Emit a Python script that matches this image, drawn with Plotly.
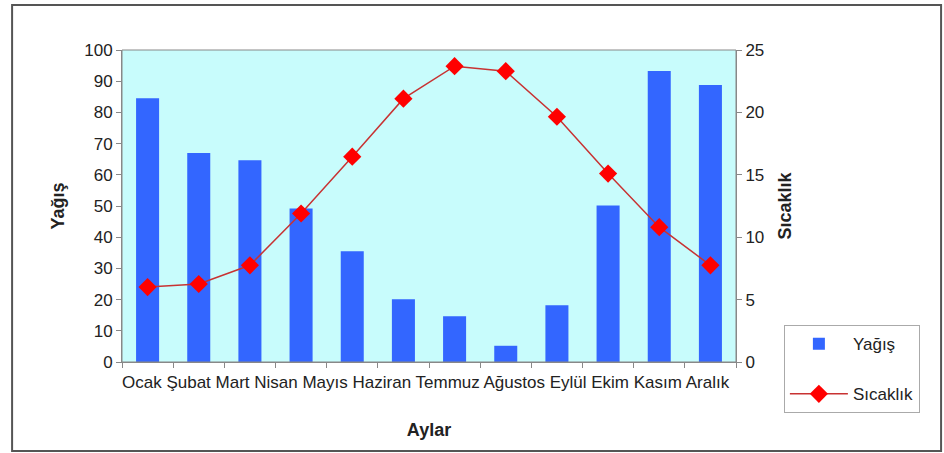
import plotly.graph_objects as go

aylar = ["Ocak", "Şubat", "Mart", "Nisan", "Mayıs", "Haziran", "Temmuz", "Ağustos", "Eylül", "Ekim", "Kasım", "Aralık"]
yagis = [84.5, 67, 64.7, 49.2, 35.5, 20.1, 14.7, 5.2, 18.2, 50.2, 93.3, 88.8]
sicaklik = [6.0, 6.25, 7.75, 11.9, 16.45, 21.1, 23.7, 23.3, 19.65, 15.1, 10.8, 7.75]

fig = go.Figure()
fig.add_trace(go.Bar(x=aylar, y=yagis, name="Yağış", legendgroup="a",
                     marker=dict(color="#3366ff", line=dict(width=0)), yaxis="y"))
fig.add_trace(go.Scatter(x=aylar, y=sicaklik, name="Sıcaklık", legendgroup="b", mode="lines+markers",
                         line=dict(color="#c83232", width=1.5),
                         marker=dict(symbol="diamond", size=14, color="#ff0000"), yaxis="y2"))

font = "Liberation Sans, Arial, sans-serif"
fig.update_layout(
    width=944, height=453,
    margin=dict(l=122, r=208, t=50, b=91, autoexpand=False),
    paper_bgcolor="white", plot_bgcolor="#c8fcfc",
    bargap=0.55,
    font=dict(family=font, size=17, color="#222"),
    showlegend=True,
    legend=dict(x=1.078, y=0.118, xanchor="left", yanchor="top", bordercolor="#aaa", borderwidth=1,
                bgcolor="white", font=dict(size=17), tracegroupgap=25, itemwidth=58),
    xaxis=dict(type="category", range=[-0.5, len(aylar) - 0.5], showgrid=False, ticks="outside",
               tickson="boundaries", ticklen=5,
               tickcolor="#888", showline=True, linecolor="#888", linewidth=1, mirror=False,
               showticklabels=False, automargin=False,
               title=dict(text="<b>Aylar</b>", font=dict(size=18), standoff=61)),
    yaxis=dict(range=[0, 100], dtick=10, showgrid=False, ticks="outside", ticklen=5, tickcolor="#888",
               showline=True, linecolor="#888", linewidth=1, zeroline=False, automargin=False,
               title=dict(text="<b>Yağış</b>", font=dict(size=18), standoff=14)),
    yaxis2=dict(range=[0, 25], dtick=5, overlaying="y", side="right", showgrid=False, ticks="outside",
                ticklen=5, tickcolor="#888", showline=True, linecolor="#888", linewidth=1, zeroline=False,
                automargin=False,
                title=dict(text="<b>Sıcaklık</b>", font=dict(size=18), standoff=15)),
    annotations=[
        dict(text=" ".join(aylar), xref="paper", yref="paper", x=0, y=0, xanchor="left", yanchor="top",
             xshift=-2, yshift=-9, showarrow=False, font=dict(size=17, color="#222")),
    ],
    shapes=[
        dict(type="rect", xref="paper", yref="paper", x0=0, x1=1, y0=0, y1=1,
             line=dict(color="#888", width=1)),
        dict(type="rect", xref="paper", yref="paper", x0=-0.179, x1=1.334, y0=-0.285, y1=1.144,
             line=dict(color="#555", width=2)),
    ],
)
fig.write_html("out.html", config={"displayModeBar": False},
               post_script="document.body.style.margin='0';")
